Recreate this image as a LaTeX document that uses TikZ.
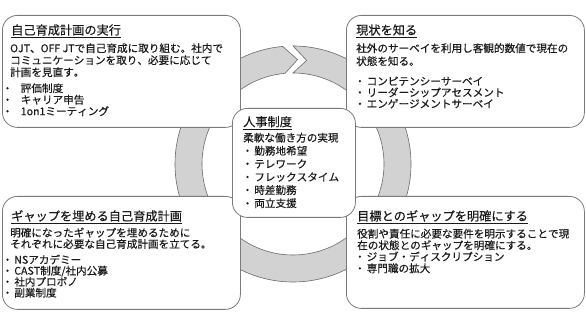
\documentclass[tikz,border=0pt]{standalone}
\usepackage{fontspec}
\usetikzlibrary{calc}
\setmainfont{Noto Sans CJK JP}
\newfontfamily\bodyjp[FakeBold=0.3,Kerning=Off]{Noto Sans CJK JP}
\newfontfamily\titlejp[FakeBold=0.3,Kerning=Off]{Noto Sans CJK JP}
\definecolor{boxline}{HTML}{7A7A7A}
\definecolor{ringfill}{HTML}{D2D2D2}
\definecolor{ringline}{HTML}{6A6A6A}
\definecolor{txtcol}{HTML}{1A1A1A}
\newcommand{\fs}{\rule{0pt}{12pt}}
\newcommand{\bl}{・\hspace{1.5pt}}
\begin{document}
\begin{tikzpicture}[x=1pt,y=1pt,
  box/.style={draw=boxline,fill=white,line width=0.8pt,rounded corners=15pt,anchor=north west,inner sep=0pt},
  ttl/.style={anchor=base west,inner sep=0pt,text=txtcol,font=\titlejp\fontsize{12.2}{14}\selectfont},
  txt/.style={anchor=north west,inner sep=0pt,align=left,text=txtcol,font=\bodyjp\fontsize{10.6}{12}\selectfont},
  ring/.style={fill=ringfill,draw=ringline,line width=0.6pt,line join=miter}]
\useasboundingbox (0,0) rectangle (586,312);
% ring arrow
\coordinate (rc) at (293,148);
\path[ring] ($(rc)+(90:118)$) arc[start angle=90,end angle=-265,radius=118]
  -- ($(rc)+(87.5:104.5)$) -- ($(rc)+(95:91)$)
  arc[start angle=95,end angle=450,radius=91]
  -- ($(rc)+(82.5:104.5)$) -- cycle;
% boxes
\node[box,minimum width=238pt,minimum height=112pt] (b1) at (2,297) {};
\node[box,minimum width=238pt,minimum height=112pt] (b2) at (346,297) {};
\node[box,minimum width=238pt,minimum height=113pt] (b3) at (2,116) {};
\node[box,minimum width=238pt,minimum height=112pt] (b4) at (346,116) {};
\node[box,minimum width=123pt,minimum height=109pt] (bc) at (232,204) {};
% box 1
\node[ttl] (t1) at (11,277.4) {\underline{自己育成計画の実行}};
\node[txt] (d1) at (10,272) {\fs OJT、OFF JTで自己育成に取り組む。社内で\\コミュニケーションを取り、必要に応じて\\計画を見直す。};
\node[txt,font=\bodyjp\fontsize{10.6}{11.5}\selectfont] (l1) at (2,232) {\fs ・\hspace{8pt}評価制度\\・\hspace{8pt}キャリア申告\\・\hspace{8pt}1on1ミーティング};
% box 2
\node[ttl] (t2) at (356,277.4) {\underline{現状を知る}};
\node[txt,font=\bodyjp\fontsize{10.6}{13}\selectfont] (d2) at (356,272) {\fs 社外のサーベイを利用し客観的数値で現在の\\状態を知る。};
\node[txt,font=\bodyjp\fontsize{10.6}{11.3}\selectfont] (l2) at (354.4,239) {\fs\bl コンピテンシーサーベイ\\\bl リーダーシップアセスメント\\\bl エンゲージメントサーベイ};
% box 3
\node[ttl] (t3) at (11,91.4) {\underline{ギャップを埋める自己育成計画}};
\node[txt,font=\bodyjp\fontsize{10.6}{11.3}\selectfont] (d3) at (10,87.5) {\fs 明確になったギャップを埋めるために\\それぞれに必要な自己育成計画を立てる。};
\node[txt,font=\bodyjp\fontsize{10.6}{11}\selectfont] (l3) at (2,60.5) {\fs\bl NSアカデミー\\\bl CAST制度/社内公募\\\bl 社内プロボノ\\\bl 副業制度};
% box 4
\node[ttl] (t4) at (357,91.4) {\underline{目標とのギャップを明確にする}};
\node[txt,font=\bodyjp\fontsize{10.6}{11.6}\selectfont] (d4) at (357,86.5) {\fs 役割や責任に必要な要件を明示することで現\\在の状態とのギャップを明確にする。};
\node[txt,font=\bodyjp\fontsize{10.6}{11.7}\selectfont] (l4) at (354.4,63.5) {\fs\bl ジョブ・ディスクリプション\\\bl 専門職の拡大};
% centre
\node[ttl] (tc) at (243,185.7) {\underline{人事制度}};
\node[txt,font=\bodyjp\fontsize{10.6}{13.1}\selectfont] (dc) at (242,182.5) {\fs\hspace{1pt}柔軟な働き方の実現\\\bl 勤務地希望\\\bl テレワーク\\\bl フレックスタイム\\\bl 時差勤務\\\bl 両立支援};
\end{tikzpicture}
\end{document}
